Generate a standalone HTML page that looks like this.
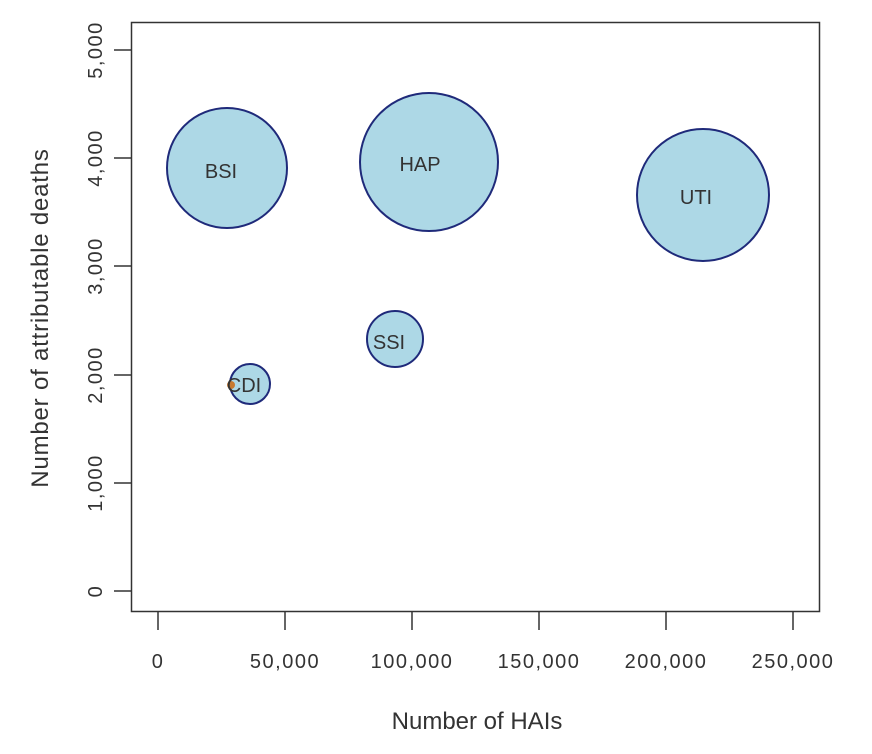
<!DOCTYPE html><html><head><style>body{margin:0;background:#fff}</style></head><body>
<svg width="872" height="749" xmlns="http://www.w3.org/2000/svg" font-family="Liberation Sans, sans-serif">
<rect x="131.5" y="22.5" width="688" height="589" fill="none" stroke="#333" stroke-width="1.5"/>
<g stroke="#333" stroke-width="1.5">
<line x1="158" y1="612" x2="158" y2="630"/><line x1="285" y1="612" x2="285" y2="630"/><line x1="412" y1="612" x2="412" y2="630"/><line x1="539" y1="612" x2="539" y2="630"/><line x1="666" y1="612" x2="666" y2="630"/><line x1="793" y1="612" x2="793" y2="630"/>
<line x1="114" y1="591" x2="131" y2="591"/><line x1="114" y1="483" x2="131" y2="483"/><line x1="114" y1="375" x2="131" y2="375"/><line x1="114" y1="266" x2="131" y2="266"/><line x1="114" y1="158" x2="131" y2="158"/><line x1="114" y1="50" x2="131" y2="50"/>
</g>
<g fill="#333" font-size="20" text-anchor="middle" letter-spacing="1.5">
<text x="158" y="668">0</text><text x="285" y="668">50,000</text><text x="412" y="668">100,000</text><text x="539" y="668">150,000</text><text x="666" y="668">200,000</text><text x="793" y="668">250,000</text>
<g transform="translate(102,591) rotate(-90)"><text>0</text></g>
<g transform="translate(102,483) rotate(-90)"><text>1,000</text></g>
<g transform="translate(102,375) rotate(-90)"><text>2,000</text></g>
<g transform="translate(102,266) rotate(-90)"><text>3,000</text></g>
<g transform="translate(102,158) rotate(-90)"><text>4,000</text></g>
<g transform="translate(102,50) rotate(-90)"><text>5,000</text></g>
</g>
<g fill="#333" text-anchor="middle">
<text x="477" y="729" font-size="24">Number of HAIs</text>
<g transform="translate(48,318) rotate(-90)"><text font-size="24" letter-spacing="0.8">Number of attributable deaths</text></g>
</g>
<g fill="#add8e6" stroke="#1f2a7a" stroke-width="2">
<circle cx="227" cy="168" r="60"/><circle cx="429" cy="162" r="69"/><circle cx="703" cy="195" r="66"/><circle cx="395" cy="339" r="28"/><circle cx="250" cy="384" r="20"/>
</g>
<circle cx="231" cy="385" r="4" fill="#c87a30"/>
<g fill="#333" font-size="20" text-anchor="middle">
<text x="221" y="178">BSI</text><text x="420" y="171">HAP</text><text x="696" y="204">UTI</text><text x="389" y="349">SSI</text><text x="244" y="392">CDI</text>
</g>
</svg></body></html>
